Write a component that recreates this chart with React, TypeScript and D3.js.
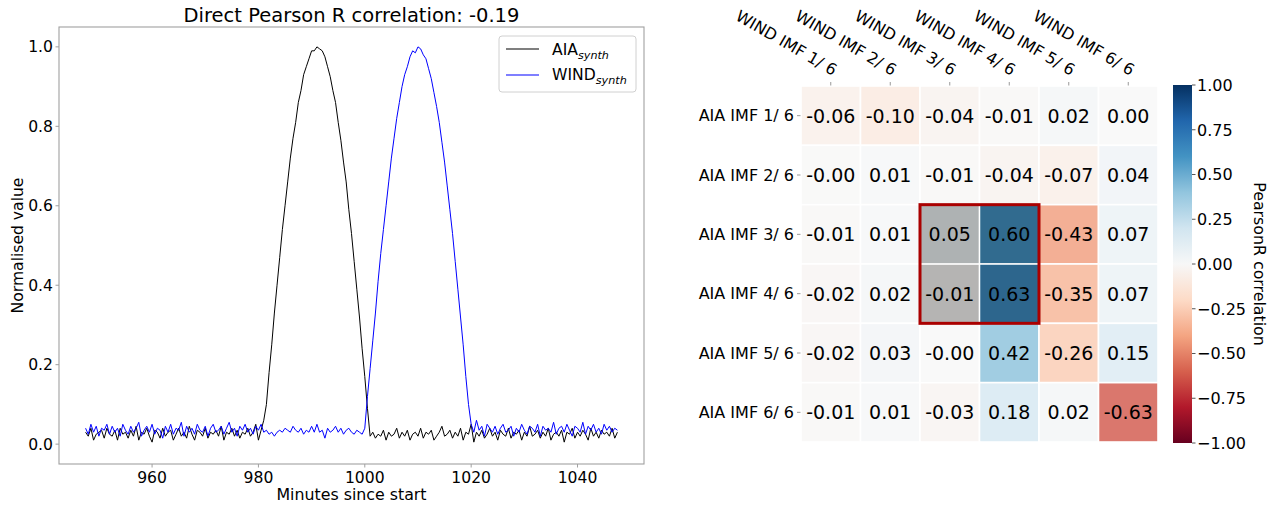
import React from "react";
import * as d3 from "d3";

// ---------- Left panel data ----------
const T_START = 947.5;
const T_STEP = 0.5;

const aiaSynth: number[] = [
  0.03,0.02,0.04,0.01,0.025,0.03,0.035,0.015,0.04,0.025,
  0.02,0.035,0.01,0.04,0.025,0.03,0.015,0.035,0.02,0.045,
  0.01,0.03,0.025,0.04,0.02,0.005,0.035,0.03,0.015,0.04,
  0.02,0.03,0.035,0.01,0.025,0.04,0.02,0.03,0.015,0.045,
  0.025,0.01,0.035,0.03,0.02,0.04,0.015,0.03,0.025,0.035,
  0.02,0.045,0.01,0.03,0.025,0.04,0.02,0.035,0.015,0.03,
  0.025,0.04,0.02,0.03,0.05,0.01,0.035,0.06,
  0.10,0.18,0.25,0.33,0.40,0.47,0.54,0.60,0.66,0.72,
  0.77,0.81,0.86,0.89,0.93,0.95,0.97,0.99,0.99,
  1.0,
  0.995,0.99,0.975,0.95,0.925,0.89,0.86,0.81,0.765,0.71,
  0.66,0.59,0.53,0.46,0.39,0.32,0.24,0.17,0.09,
  0.02,0.03,0.015,0.025,0.02,0.035,0.01,0.03,0.02,0.025,
  0.04,0.015,0.03,0.02,0.035,0.01,0.025,0.03,0.02,0.04,
  0.015,0.03,0.025,0.035,0.01,0.02,0.03,0.045,0.02,0.025,
  0.035,0.015,0.03,0.02,0.04,0.01,0.03,0.025,0.05,0.005,
  0.03,0.02,0.035,0.015,0.025,0.04,0.02,0.03,0.01,0.035,
  0.025,0.02,0.04,0.015,0.03,0.025,0.035,0.01,0.03,0.02,
  0.045,0.02,0.025,0.035,0.015,0.03,0.02,0.04,0.01,0.025,
  0.03,0.02,0.035,0.005,0.03,0.025,0.04,0.015,0.03,0.02,
  0.035,0.025,0.01,0.04,0.02,0.03,0.015,0.035,0.025,0.03,
  0.02,0.04,0.015,0.03,
];

const windSynth: number[] = [
  0.04,0.025,0.05,0.03,0.045,0.02,0.04,0.035,0.05,0.025,
  0.045,0.03,0.04,0.02,0.05,0.035,0.025,0.045,0.03,0.04,
  0.055,0.02,0.035,0.045,0.03,0.05,0.025,0.04,0.035,0.015,
  0.045,0.03,0.05,0.025,0.04,0.035,0.055,0.02,0.045,0.03,
  0.04,0.025,0.05,0.035,0.03,0.045,0.02,0.04,0.05,0.03,
  0.035,0.045,0.025,0.04,0.055,0.03,0.04,0.02,0.045,0.035,
  0.05,0.03,0.04,0.025,0.045,0.035,0.05,
  0.03,0.035,0.025,0.03,0.02,0.03,0.035,0.03,0.04,0.035,
  0.03,0.045,0.035,0.03,0.04,0.025,0.035,0.03,0.045,0.03,
  0.05,0.03,0.035,0.015,0.04,0.03,0.035,0.045,0.03,0.04,
  0.025,0.035,0.04,0.03,0.025,0.035,0.03,0.025,0.04,
  0.12,0.19,0.26,0.33,0.41,0.48,0.54,0.60,0.66,0.72,
  0.77,0.82,0.86,0.90,0.93,0.95,0.975,0.99,0.985,
  1.0,
  0.995,0.98,0.97,0.945,0.92,0.885,0.85,0.81,0.76,0.71,
  0.65,0.59,0.53,0.46,0.39,0.32,0.25,0.17,0.10,
  0.05,0.03,0.06,0.035,0.045,0.02,0.05,0.04,0.03,0.045,
  0.025,0.04,0.05,0.03,0.035,0.045,0.02,0.04,0.03,0.05,
  0.035,0.025,0.045,0.04,0.03,0.05,0.02,0.045,0.035,0.04,
  0.03,0.055,0.025,0.04,0.045,0.03,0.05,0.035,0.02,0.045,
  0.04,0.03,0.055,0.025,0.045,0.035,0.05,0.03,0.04,0.025,
  0.05,0.035,0.045,0.03,0.04,0.035,
];

const xTicks = [960, 980, 1000, 1020, 1040];
const yTicks = [0.0, 0.2, 0.4, 0.6, 0.8, 1.0];
const leftTitle = "Direct Pearson R correlation: -0.19";

// ---------- Right panel data ----------
const colLabels = ["WIND IMF 1/ 6", "WIND IMF 2/ 6", "WIND IMF 3/ 6", "WIND IMF 4/ 6", "WIND IMF 5/ 6", "WIND IMF 6/ 6"];
const rowLabels = ["AIA IMF 1/ 6", "AIA IMF 2/ 6", "AIA IMF 3/ 6", "AIA IMF 4/ 6", "AIA IMF 5/ 6", "AIA IMF 6/ 6"];
const row1 = [-0.06, -0.10, -0.04, -0.01, 0.02, 0.00];
const row2 = [-0.003, 0.01, -0.01, -0.04, -0.07, 0.04];
const row3 = [-0.01, 0.01, 0.05, 0.60, -0.43, 0.07];
const row4 = [-0.02, 0.02, -0.01, 0.63, -0.35, 0.07];
const row5 = [-0.02, 0.03, -0.002, 0.42, -0.26, 0.15];
const row6 = [-0.01, 0.01, -0.03, 0.18, 0.02, -0.63];
const corrRows = [row1, row2, row3, row4, row5, row6];
const highlightRows = [2, 3];
const highlightCols = [2, 3];
const cbTicks = [1.0, 0.75, 0.5, 0.25, 0.0, -0.25, -0.5, -0.75, -1.0];

const RDBU = ["#67001f", "#b2182b", "#d6604d", "#f4a582", "#fddbc7", "#f7f7f7", "#d1e5f0", "#92c5de", "#4393c3", "#2166ac", "#053061"];

const FONT = "DejaVu Sans, sans-serif";

export default function App() {
  // left axes geometry
  const L = { x0: 59, x1: 644, y0: 27, y1: 464 };
  const times = aiaSynth.map((_, i) => T_START + i * T_STEP);
  const tMin = d3.min(times)!;
  const tMax = d3.max(times)!;
  const pad = (tMax - tMin) * 0.05;
  const x = d3.scaleLinear().domain([tMin - pad, tMax + pad]).range([L.x0, L.x1]);
  const y = d3.scaleLinear().domain([-0.05, 1.05]).range([L.y1, L.y0]);
  const line = d3
    .line<number>()
    .x((_, i) => x(times[i]))
    .y((d) => y(d));

  // heatmap geometry
  const H = { x0: 801, x1: 1158, y0: 86, y1: 442 };
  const xb = d3.scaleBand<number>().domain(d3.range(colLabels.length)).range([H.x0, H.x1]);
  const yb = d3.scaleBand<number>().domain(d3.range(rowLabels.length)).range([H.y0, H.y1]);
  const color = d3
    .scaleLinear<string>()
    .domain(d3.range(11).map((i) => -1 + (2 * i) / 10))
    .range(RDBU)
    .interpolate(d3.interpolateRgb);
  const CB = { x0: 1173, x1: 1192, y0: 85, y1: 443 };
  const cy = d3.scaleLinear().domain([-1, 1]).range([CB.y1, CB.y0]);

  const isHi = (r: number, c: number) => highlightRows.includes(r) && highlightCols.includes(c);
  const hx0 = xb(highlightCols[0])!;
  const hx1 = xb(highlightCols[highlightCols.length - 1])! + xb.bandwidth();
  const hy0 = yb(highlightRows[0])!;
  const hy1 = yb(highlightRows[highlightRows.length - 1])! + yb.bandwidth();

  const fmtCb = (v: number) => (v < 0 ? "\u2212" + Math.abs(v).toFixed(2) : v.toFixed(2));

  return (
    <svg
      width={1275}
      height={505}
      style={{ position: "absolute", left: 0, top: 0, background: "#fff" }}
      fontFamily={FONT}
    >
      <defs>
        <linearGradient id="cbgrad" x1="0" y1="1" x2="0" y2="0">
          {RDBU.map((c, i) => (
            <stop key={i} offset={`${(i / 10) * 100}%`} stopColor={c} />
          ))}
        </linearGradient>
        <clipPath id="lclip">
          <rect x={L.x0} y={L.y0} width={L.x1 - L.x0} height={L.y1 - L.y0} />
        </clipPath>
      </defs>

      {/* ---------- Left panel ---------- */}
      <text x={(L.x0 + L.x1) / 2} y={22} fontSize={19.5} textAnchor="middle" fill="#000">
        {leftTitle}
      </text>
      <g clipPath="url(#lclip)">
        <path d={line(aiaSynth)!} fill="none" stroke="#000" strokeWidth={1} />
        <path d={line(windSynth)!} fill="none" stroke="#0000ff" strokeWidth={1} />
      </g>
      <rect x={L.x0} y={L.y0} width={L.x1 - L.x0} height={L.y1 - L.y0} fill="none" stroke="#a0a0a0" strokeWidth={1.1} />
      {xTicks.map((t) => (
        <g key={t}>
          <line x1={x(t)} x2={x(t)} y1={L.y1} y2={L.y1 + 3.5} stroke="#a0a0a0" />
          <text x={x(t)} y={483} fontSize={15.6} textAnchor="middle" fill="#000">
            {t}
          </text>
        </g>
      ))}
      {yTicks.map((t) => (
        <g key={t}>
          <line x1={L.x0 - 3.5} x2={L.x0} y1={y(t)} y2={y(t)} stroke="#a0a0a0" />
          <text x={L.x0 - 6} y={y(t)} dy="0.35em" fontSize={15.6} textAnchor="end" fill="#000">
            {t.toFixed(1)}
          </text>
        </g>
      ))}
      <text x={(L.x0 + L.x1) / 2} y={500} fontSize={15.8} textAnchor="middle" fill="#000">
        Minutes since start
      </text>
      <text
        transform={`translate(23,${(L.y0 + L.y1) / 2}) rotate(-90)`}
        fontSize={15.6}
        textAnchor="middle"
        fill="#000"
      >
        Normalised value
      </text>

      {/* legend */}
      <g>
        <rect x={499} y={36} width={137} height={56} rx={3} fill="#fff" fillOpacity={0.8} stroke="#d0d0d0" />
        <line x1={506} x2={539} y1={49} y2={49} stroke="#000" strokeWidth={1.1} />
        <text x={552} y={55} fontSize={15.6} fill="#000">
          AIA
          <tspan fontStyle="italic" fontSize={11.2} dy={3.5}>
            synth
          </tspan>
        </text>
        <line x1={506} x2={539} y1={75} y2={75} stroke="#0000ff" strokeWidth={1.1} />
        <text x={552} y={80} fontSize={15.6} fill="#000">
          WIND
          <tspan fontStyle="italic" fontSize={11.2} dy={3.5}>
            synth
          </tspan>
        </text>
      </g>

      {/* ---------- Right panel: heatmap ---------- */}
      {corrRows.map((row, r) =>
        row.map((v, c) => (
          <rect
            key={`${r}-${c}`}
            x={xb(c)!}
            y={yb(r)!}
            width={xb.bandwidth()}
            height={yb.bandwidth()}
            fill={color(v)}
            fillOpacity={isHi(r, c) ? 1 : 0.8}
            stroke="#fff"
            strokeWidth={1.6}
          />
        ))
      )}
      {/* grey overlay on the highlighted block */}
      {highlightRows.map((r) =>
        highlightCols.map((c) => (
          <rect
            key={`ov-${r}-${c}`}
            x={xb(c)! + 0.8}
            y={yb(r)! + 0.8}
            width={xb.bandwidth() - 1.6}
            height={yb.bandwidth() - 1.6}
            fill="#000"
            fillOpacity={0.265}
          />
        ))
      )}
      {corrRows.map((row, r) =>
        row.map((v, c) => (
          <text
            key={`t-${r}-${c}`}
            x={xb(c)! + xb.bandwidth() / 2}
            y={yb(r)! + yb.bandwidth() / 2}
            dy="0.36em"
            fontSize={19}
            textAnchor="middle"
            fill="#000"
          >
            {v.toFixed(2)}
          </text>
        ))
      )}
      <rect x={hx0} y={hy0} width={hx1 - hx0} height={hy1 - hy0} fill="none" stroke="#aa0000" strokeWidth={3} />

      {/* row labels */}
      {rowLabels.map((lab, r) => (
        <g key={lab}>
          <line x1={H.x0 - 4} x2={H.x0 - 0.5} y1={yb(r)! + yb.bandwidth() / 2} y2={yb(r)! + yb.bandwidth() / 2} stroke="#999" />
          <text
            x={H.x0 - 7}
            y={yb(r)! + yb.bandwidth() / 2}
            dy="0.36em"
            fontSize={16}
            textAnchor="end"
            fill="#000"
          >
            {lab}
          </text>
        </g>
      ))}
      {/* column labels */}
      {colLabels.map((lab, c) => {
        const cx = xb(c)! + xb.bandwidth() / 2;
        return (
          <g key={lab}>
            <line x1={cx} x2={cx} y1={H.y0 - 4} y2={H.y0 - 0.5} stroke="#999" />
            <text transform={`translate(${cx + 2},76) rotate(30)`} fontSize={16} textAnchor="end" fill="#000">
              {lab}
            </text>
          </g>
        );
      })}

      {/* colorbar */}
      <rect x={CB.x0} y={CB.y0} width={CB.x1 - CB.x0} height={CB.y1 - CB.y0} fill="url(#cbgrad)" />
      {cbTicks.map((t) => (
        <g key={t}>
          <line x1={CB.x1} x2={CB.x1 + 3.5} y1={cy(t)} y2={cy(t)} stroke="#555" />
          <text x={CB.x1 + 5} y={cy(t)} dy="0.36em" fontSize={16} fill="#000">
            {fmtCb(t)}
          </text>
        </g>
      ))}
      <text
        transform={`translate(1254,${(CB.y0 + CB.y1) / 2}) rotate(90)`}
        fontSize={15.8}
        textAnchor="middle"
        fill="#000"
      >
        PearsonR correlation
      </text>
    </svg>
  );
}
